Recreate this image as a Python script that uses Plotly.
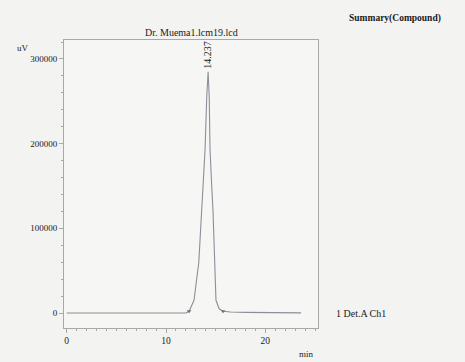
import plotly.graph_objects as go

# Chromatogram points (time in min, signal in uV)
time_min = [0.0, 4.0, 8.0, 12.0, 12.32, 12.82, 13.30, 13.62, 13.93, 14.10, 14.237,
            14.35, 14.43, 14.60, 14.73, 15.03, 15.35, 15.74, 16.5, 18.0, 20.0, 22.0, 23.6]
signal_uv = [0, 0, 0, 0, 2000, 15000, 60000, 121000, 193000, 255000, 285000,
             255000, 193000, 150000, 121000, 15000, 5000, 2000, 1200, 800, 500, 300, 200]

peak_time = [14.237]
peak_label = ["14.237"]
peak_height = [285000]

x_ticks = [0, 10, 20]
y_ticks = [0, 100000, 200000, 300000]
y_tick_text = ["0", "100000", "200000", "300000"]

serif = "Liberation Serif"
line_col = "#8d8e98"
axis_col = "#a8a8aa"

fig = go.Figure()
fig.add_trace(go.Scatter(x=time_min, y=signal_uv, mode="lines",
                         line=dict(color=line_col, width=1.1), hoverinfo="skip"))
# integration markers at peak start/end
fig.add_trace(go.Scatter(x=[time_min[4], time_min[17]], y=[signal_uv[4], signal_uv[17]],
                         mode="markers", marker=dict(color="#6f7078", size=4, symbol="triangle-down"),
                         hoverinfo="skip"))

W, H = 254, 288  # plot area px
anns = [
    dict(x=peak_time[0], y=peak_height[0], text=peak_label[0], textangle=-90,
         xref="x", yref="y", showarrow=False, xanchor="center", yanchor="bottom",
         yshift=1, xshift=0, font=dict(family=serif, size=10, color="#222")),
    dict(text="Dr. Muema1.lcm19.lcd", x=0.5, y=1.0, xref="paper", yref="paper",
         xanchor="center", yanchor="bottom", yshift=0, showarrow=False,
         font=dict(family=serif, size=10, color="#1a1a1a")),
    dict(text="<b>Summary(Compound)</b>", x=(395 - 64) / W, y=1 + 22 / H,
         xref="paper", yref="paper", xanchor="center", yanchor="middle",
         showarrow=False, font=dict(family=serif, size=9.5, color="#1a1a1a")),
    dict(text="uV", x=(15 - 64) / W, y=1 - 8 / H, xref="paper", yref="paper",
         xanchor="left", yanchor="middle", showarrow=False,
         font=dict(family=serif, size=9, color="#222")),
    dict(text="min", x=(306 - 64) / W, y=-(354 - 328) / H, xref="paper", yref="paper",
         xanchor="center", yanchor="middle", showarrow=False,
         font=dict(family=serif, size=9, color="#222")),
    dict(text="1 Det.A Ch1", x=(334 - 64) / W, y=0, xref="paper", yref="y",
         xanchor="left", yanchor="middle", showarrow=False,
         font=dict(family=serif, size=10, color="#1a1a1a")),
]

fig.update_layout(
    width=465, height=362,
    margin=dict(l=64, r=147, t=40, b=34),
    paper_bgcolor="#f3f3f1", plot_bgcolor="#f6f6f4",
    showlegend=False,
    font=dict(family=serif, size=9, color="#222"),
    annotations=anns,
)

fig.update_xaxes(range=[-0.27, 25.3], tickvals=x_ticks, ticks="outside", ticklen=4,
                 tickcolor=axis_col, showgrid=False, zeroline=False,
                 showline=True, linecolor=axis_col, linewidth=1, mirror=True,
                 minor=dict(dtick=1, ticks="outside", ticklen=2, tickcolor=axis_col),
                 tickfont=dict(family=serif, size=9.5, color="#222"))
fig.update_yaxes(range=[-17700, 322400], tickvals=y_ticks, ticktext=y_tick_text,
                 ticks="outside", ticklen=4,
                 tickcolor=axis_col, showgrid=False, zeroline=False,
                 showline=True, linecolor=axis_col, linewidth=1, mirror=True,
                 minor=dict(dtick=20000, ticks="outside", ticklen=2, tickcolor=axis_col),
                 tickfont=dict(family=serif, size=9, color="#222"))

fig.write_html("out.html", config={"displayModeBar": False, "staticPlot": True})

# remove the browser's default 8px page margin so the figure fills the window
with open("out.html", "r", encoding="utf-8") as f:
    html = f.read()
html = html.replace("<body>", '<body style="margin:0;padding:0;overflow:hidden;background:#f3f3f1">', 1)
with open("out.html", "w", encoding="utf-8") as f:
    f.write(html)
